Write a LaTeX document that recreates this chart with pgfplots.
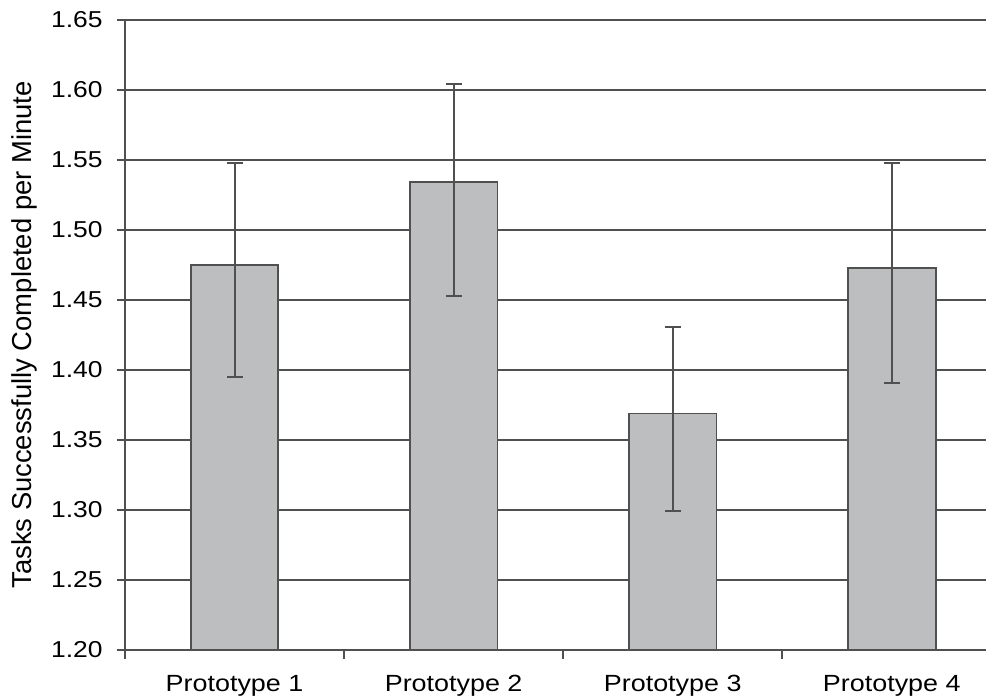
\documentclass[border=0pt]{standalone}
\usepackage{pgfplots}
\pgfplotsset{compat=1.18}
\usepackage{fontspec}
\setmainfont{Liberation Sans}[FakeStretch=1.15]
\newfontfamily\ylfont{Liberation Sans}
\definecolor{barfill}{RGB}{188,190,192}
\definecolor{linegray}{RGB}{80,80,80}
\begin{document}
\begin{tikzpicture}
\begin{axis}[
  scale only axis,
  width=430.5pt, height=315pt,
  at={(0,0)}, anchor=south west,
  xmin=-0.5, xmax=3.43,
  ymin=1.20, ymax=1.65,
  ytick={1.20,1.25,1.30,1.35,1.40,1.45,1.50,1.55,1.60,1.65},
  yticklabels={1.20,1.25,1.30,1.35,1.40,1.45,1.50,1.55,1.60,1.65},
  xtick={0,1,2,3},
  xticklabels={Prototype 1,Prototype 2,Prototype 3,Prototype 4},
  minor xtick={-0.5,0.5,1.5,2.5},
  axis x line=bottom, axis y line=left,
  axis line style={-, draw=linegray, line width=0.9pt},
  ymajorgrids,
  major grid style={draw=linegray, line width=0.9pt},
  tick align=outside,
  major tick length=4pt, minor tick length=4.5pt,
  xtick style={draw=none},
  minor x tick style={draw=linegray, line width=0.9pt},
  ytick style={draw=linegray, line width=0.9pt},
  /pgf/number format/assume math mode=true,
  yticklabel style={font=\fontsize{11.5}{13}\selectfont, anchor=east, inner sep=0pt, xshift=-7pt},
  xticklabel style={font=\fontsize{11.7}{13}\selectfont, anchor=base, inner sep=0pt, yshift=-16.5pt},
  ylabel={Tasks Successfully Completed per Minute},
  ylabel style={font=\ylfont\fontsize{13.7}{16}\selectfont, at={(axis description cs:0,0.5)}, anchor=base, yshift=46.5pt, inner sep=0pt},
  ybar, bar width=0.4,
  clip=true,
]
\addplot[fill=barfill, draw=linegray, line width=0.9pt,
  error bars/.cd, y dir=both, y explicit,
  error bar style={draw=linegray, line width=1pt, solid},
  error mark options={rotate=90, mark size=4pt, draw=linegray, line width=1pt, solid}]
coordinates {
  (0,1.475) += (0,0.073) -= (0,0.080)
  (1,1.534) += (0,0.070) -= (0,0.081)
  (2,1.369) += (0,0.062) -= (0,0.070)
  (3,1.473) += (0,0.075) -= (0,0.082)
};
\end{axis}
\pgfresetboundingbox
\path[use as bounding box] (-62.5pt,-23.5pt) rectangle (430.5pt,325pt);
\end{tikzpicture}
\end{document}
